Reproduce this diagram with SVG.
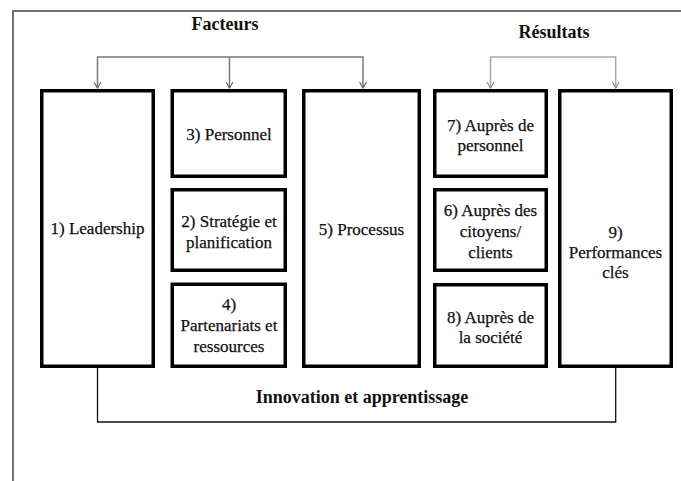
<svg xmlns="http://www.w3.org/2000/svg" width="681" height="481" viewBox="0 0 681 481">
<style>
.box{fill:#fff;stroke:#000;stroke-width:3.5}
.lbl{font-family:'Liberation Serif','DejaVu Serif',serif;font-size:17px;font-weight:normal;fill:#111;stroke:#111;stroke-width:0.25;text-anchor:middle}
.ttl{font-family:'Liberation Serif','DejaVu Serif',serif;font-size:18px;font-weight:bold;fill:#111;text-anchor:middle}
.cf{fill:none;stroke:#7a7a7a;stroke-width:1.5}
.cr{fill:none;stroke:#a8a8a8;stroke-width:1.5}
.cb{fill:none;stroke:#111;stroke-width:1.3}
</style>
<defs>
<marker id="ahf" viewBox="-5 -7 10 8" refX="0" refY="0" markerWidth="10" markerHeight="8" markerUnits="userSpaceOnUse" orient="0">
<path d="M-3.5,-6 L0,0 L3.5,-6" fill="none" stroke="#666" stroke-width="1.2"/>
</marker>
<marker id="ahr" viewBox="-5 -7 10 8" refX="0" refY="0" markerWidth="10" markerHeight="8" markerUnits="userSpaceOnUse" orient="0">
<path d="M-3.5,-6 L0,0 L3.5,-6" fill="none" stroke="#888" stroke-width="1.2"/>
</marker>
</defs>
<rect width="681" height="481" fill="#fff"/>
<polyline points="13,481 13,11 681,11" fill="none" stroke="#444" stroke-width="1.5"/>
<text class="ttl" x="225" y="30">Facteurs</text>
<text class="ttl" x="554" y="38">Résultats</text>
<g id="connectors">
<polyline class="cf" points="97.5,88 97.5,57 363,57 363,88" marker-start="url(#ahf)" marker-end="url(#ahf)"/>
<line class="cf" x1="229.5" y1="57" x2="229.5" y2="88" marker-end="url(#ahf)"/>
<polyline class="cr" points="490.5,88 490.5,57 615.7,57 615.7,88" marker-start="url(#ahr)" marker-end="url(#ahr)"/>
<polyline class="cb" points="97.5,368 97.5,422 615.7,422 615.7,368"/>
</g>
<g id="leadership"><rect class="box" x="41.75" y="90.75" width="111.5" height="275.5"/><text class="lbl" x="97.5" y="234">1) Leadership</text></g>
<g id="personnel"><rect class="box" x="172.25" y="90.75" width="113" height="85.5"/><text class="lbl" x="229" y="140">3) Personnel</text></g>
<g id="strategie"><rect class="box" x="172.25" y="189.75" width="113" height="80.5"/><text class="lbl" x="229" y="226.5">2) Stratégie et</text><text class="lbl" x="229" y="248">planification</text></g>
<g id="partenariats"><rect class="box" x="172.25" y="284.25" width="113" height="82"/><text class="lbl" x="229" y="310">4)</text><text class="lbl" x="229" y="331">Partenariats et</text><text class="lbl" x="229" y="352">ressources</text></g>
<g id="processus"><rect class="box" x="303.75" y="90.75" width="115.5" height="275.5"/><text class="lbl" x="361.5" y="235">5) Processus</text></g>
<g id="aupres-personnel"><rect class="box" x="434.75" y="90.75" width="111.5" height="85.5"/><text class="lbl" x="490.5" y="130.5">7) Auprès de</text><text class="lbl" x="490.5" y="151">personnel</text></g>
<g id="aupres-citoyens"><rect class="box" x="434.75" y="189.75" width="111.5" height="80.5"/><text class="lbl" x="490.5" y="216">6) Auprès des</text><text class="lbl" x="490.5" y="237">citoyens/</text><text class="lbl" x="490.5" y="258">clients</text></g>
<g id="aupres-societe"><rect class="box" x="434.75" y="284.75" width="111.5" height="81.5"/><text class="lbl" x="490.5" y="322.5">8) Auprès de</text><text class="lbl" x="490.5" y="343">la société</text></g>
<g id="performances"><rect class="box" x="559.75" y="90.75" width="111.5" height="275.5"/><text class="lbl" x="615.5" y="238">9)</text><text class="lbl" x="615.5" y="258">Performances</text><text class="lbl" x="615.5" y="278">clés</text></g>
<text class="ttl" x="362" y="403">Innovation et apprentissage</text>
</svg>
